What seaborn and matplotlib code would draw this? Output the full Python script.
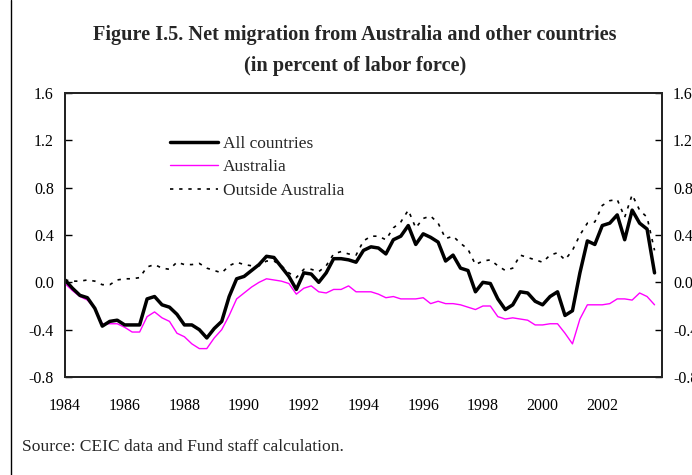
import numpy as np
import pandas as pd
import matplotlib
matplotlib.use("Agg")
import matplotlib.pyplot as plt
from matplotlib.lines import Line2D
import seaborn as sns

# ---- data (quarterly) ----
all_countries = [0.02, -0.05, -0.11, -0.13, -0.22, -0.37, -0.33, -0.32, -0.36, -0.36,
                 -0.36, -0.14, -0.12, -0.19, -0.21, -0.27, -0.36, -0.36, -0.40, -0.47,
                 -0.39, -0.33, -0.12, 0.03, 0.05, 0.10, 0.15, 0.22, 0.21, 0.13,
                 0.05, -0.06, 0.08, 0.07, 0.00, 0.08, 0.20, 0.20, 0.19, 0.17,
                 0.27, 0.30, 0.29, 0.24, 0.36, 0.39, 0.48, 0.32, 0.41, 0.38,
                 0.34, 0.18, 0.23, 0.12, 0.10, -0.08, 0.00, -0.01, -0.14, -0.23,
                 -0.19, -0.08, -0.09, -0.16, -0.19, -0.12, -0.08, -0.28, -0.24, 0.08,
                 0.35, 0.32, 0.48, 0.50, 0.57, 0.36, 0.61, 0.50, 0.45, 0.08]
australia = [-0.01, -0.07, -0.12, -0.15, -0.22, -0.35, -0.35, -0.35, -0.38, -0.42,
             -0.42, -0.29, -0.25, -0.30, -0.33, -0.43, -0.46, -0.52, -0.56, -0.56,
             -0.47, -0.40, -0.28, -0.14, -0.09, -0.04, 0.00, 0.03, 0.02, 0.01,
             -0.01, -0.10, -0.05, -0.03, -0.08, -0.09, -0.06, -0.06, -0.03, -0.08,
             -0.08, -0.08, -0.10, -0.13, -0.12, -0.14, -0.14, -0.14, -0.13, -0.18,
             -0.16, -0.18, -0.18, -0.19, -0.21, -0.23, -0.20, -0.20, -0.29, -0.31,
             -0.30, -0.31, -0.32, -0.36, -0.36, -0.35, -0.35, -0.43, -0.52, -0.31,
             -0.19, -0.19, -0.19, -0.18, -0.14, -0.14, -0.15, -0.09, -0.12, -0.19]
outside = [0.02, 0.01, 0.01, 0.02, 0.01, -0.02, -0.02, 0.02, 0.03, 0.03,
           0.04, 0.13, 0.15, 0.12, 0.11, 0.17, 0.15, 0.15, 0.16, 0.12,
           0.10, 0.08, 0.14, 0.17, 0.15, 0.14, 0.14, 0.18, 0.18, 0.14,
           0.08, 0.04, 0.11, 0.11, 0.09, 0.14, 0.24, 0.26, 0.24, 0.23,
           0.35, 0.39, 0.39, 0.36, 0.46, 0.51, 0.61, 0.46, 0.54, 0.56,
           0.50, 0.37, 0.39, 0.33, 0.28, 0.15, 0.18, 0.19, 0.14, 0.10,
           0.12, 0.23, 0.21, 0.19, 0.17, 0.23, 0.25, 0.19, 0.27, 0.40,
           0.50, 0.51, 0.65, 0.69, 0.70, 0.55, 0.74, 0.61, 0.55, 0.27]
tick_labels = ["1984", "1986", "1988", "1990", "1992", "1994", "1996",
               "1998", "2000", "2002"]
y_ticks = [-0.8, -0.4, 0.0, 0.4, 0.8, 1.2, 1.6]

quarter = np.arange(len(all_countries))
df = pd.DataFrame({"q": quarter, "All countries": all_countries,
                   "Australia": australia, "Outside Australia": outside})

sns.set_style("white")
plt.rcParams["font.family"] = ["Liberation Serif", "DejaVu Serif"]
plt.rcParams["axes.unicode_minus"] = False

fig = plt.figure(figsize=(6.92, 4.75), dpi=100)
ax = fig.add_axes([65/692, 1-377/475, 597/692, 284/475])

sns.lineplot(data=df, x="q", y="All countries", ax=ax, color="black",
             lw=2.5, label="All countries", zorder=5)
sns.lineplot(data=df, x="q", y="Australia", ax=ax, color="#ff00ff",
             lw=1.0, label="Australia", zorder=4)
sns.lineplot(data=df, x="q", y="Outside Australia", ax=ax, color="black",
             lw=1.2, linestyle=(0, (2, 3.5)), label="Outside Australia", zorder=3)

ax.set_xlim(0, 80)
ax.set_ylim(-0.8, 1.6)
ax.set_xlabel("")
ax.set_ylabel("")
ax.set_xticks(np.arange(0, 81, 4))
ax.set_xticklabels([tick_labels[k // 2] if (k % 2 == 0 and k // 2 < len(tick_labels)) else ""
                    for k in range(21)])
ax.set_yticks(y_ticks)
ax.set_yticklabels([f"{v:.1f}" for v in y_ticks])

for s in ax.spines.values():
    s.set_color("black")
    s.set_linewidth(1.3)
    s.set_visible(True)

ax.tick_params(axis="x", direction="in", length=5, width=1, pad=15,
               labelsize=11.5, colors="black")
ax.tick_params(axis="y", direction="in", length=5, width=1, pad=8,
               labelsize=11.5, colors="black", left=True)

ax2 = ax.twinx()
ax2.set_ylim(-0.8, 1.6)
ax2.set_yticks(y_ticks)
ax2.set_yticklabels([f"{v:.1f}" for v in y_ticks])
ax2.tick_params(axis="y", direction="in", length=5, width=1, pad=8,
                labelsize=11.5, colors="black", right=True)
for s in ax2.spines.values():
    s.set_linewidth(1.3)

leg = ax.legend(loc="upper left", bbox_to_anchor=(0.176, 0.849), frameon=False,
                fontsize=12.5, handlelength=2.77, handletextpad=0.26,
                labelspacing=0.41, borderpad=0, borderaxespad=0)

fig.text(0.513, 0.926, "Figure I.5. Net migration from Australia and other countries",
         ha="center", va="center", fontsize=14.6, fontweight="bold")
fig.text(0.513, 0.862, "(in percent of labor force)",
         ha="center", va="center", fontsize=14.6, fontweight="bold")
fig.text(22/692, 1-447/475, "Source: CEIC data and Fund staff calculation.",
         ha="left", va="center", fontsize=12.6)

fig.add_artist(Line2D([11/692, 11/692], [0, 1], transform=fig.transFigure,
                      color="black", lw=1.0))

fig.savefig("out.png", dpi=100)
